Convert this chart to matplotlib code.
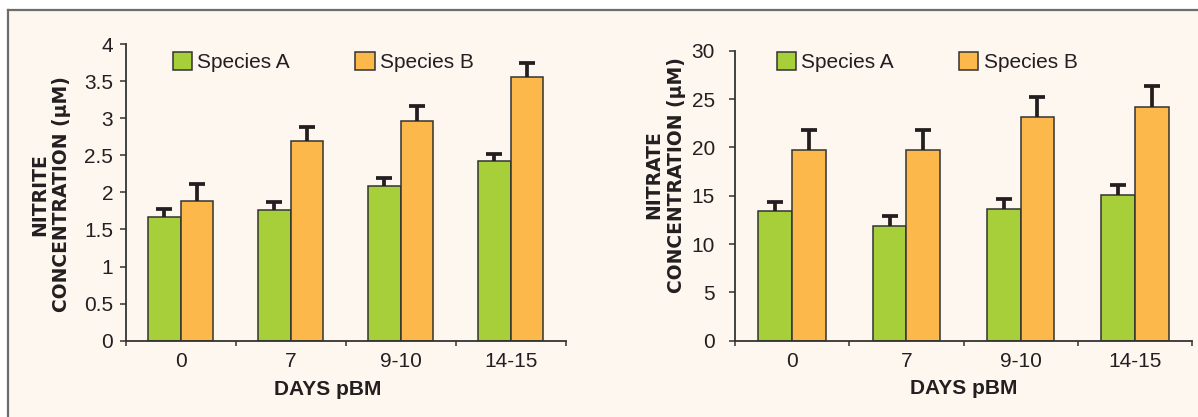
import matplotlib
matplotlib.use("Agg")
import matplotlib.pyplot as plt
from matplotlib.patches import Rectangle, Patch
from matplotlib.lines import Line2D
import numpy as np

plt.rcParams["font.family"] = ["Liberation Sans", "DejaVu Sans"]

# data
days = ["0", "7", "9-10", "14-15"]

nitriteA = [1.67, 1.76, 2.09, 2.42]
nitriteAerr = [0.11, 0.11, 0.11, 0.10]
nitriteB = [1.88, 2.69, 2.96, 3.55]
nitriteBerr = [0.23, 0.19, 0.20, 0.20]

nitrateA = [13.4, 11.9, 13.6, 15.1]
nitrateAerr = [1.0, 1.0, 1.1, 1.0]
nitrateB = [19.7, 19.7, 23.1, 24.2]
nitrateBerr = [2.1, 2.1, 2.1, 2.1]

GREEN = "#a7cf3a"
ORANGE = "#fdb84b"
CREAM = "#fdf7f0"
INK = "#231f20"

W, H = 1198, 417
fig = plt.figure(figsize=(W / 100, H / 100), dpi=100)
fig.patch.set_facecolor("white")

# cream panel with a gray frame line along top and left
fig.patches.append(Rectangle((8 / W, 0), 1 - 8 / W, 407 / H, transform=fig.transFigure,
                             facecolor=CREAM, edgecolor="none", zorder=-10))
fig.lines.append(Line2D([8 / W, 1], [407 / H, 407 / H], transform=fig.transFigure,
                        color="#6d6d6d", lw=1.6, zorder=-5))
fig.lines.append(Line2D([8 / W, 8 / W], [0, 407 / H], transform=fig.transFigure,
                        color="#6d6d6d", lw=1.6, zorder=-5))


def upper_errorbars(ax, xs, vals, errs):
    eb = ax.errorbar(xs, vals, yerr=[np.zeros(len(vals)), errs], fmt="none",
                     ecolor=INK, elinewidth=2.7, capsize=5.6, capthick=2.7, zorder=3)
    # only the top cap is wanted
    eb[1][0].set_visible(False)


def draw_panel(ax, aVals, aErr, bVals, bErr, ymax, ystep, ylabel, ylabelPos, xlabelX,
               legendPos, ytickPad):
    x = np.arange(len(days))
    bw = 0.295
    ax.bar(x - bw / 2, aVals, bw, color=GREEN, edgecolor="#333333", lw=1.1, zorder=2)
    ax.bar(x + bw / 2, bVals, bw, color=ORANGE, edgecolor="#333333", lw=1.1, zorder=2)
    upper_errorbars(ax, x - bw / 2, aVals, aErr)
    upper_errorbars(ax, x + bw / 2, bVals, bErr)

    ax.set_facecolor("none")
    ax.set_xlim(-0.5, len(days) - 0.5)
    ax.set_ylim(0, ymax)
    ax.set_yticks(np.arange(0, ymax + ystep / 2, ystep))
    ax.set_yticklabels(["%g" % v for v in np.arange(0, ymax + ystep / 2, ystep)])
    ax.set_xticks(np.arange(-0.5, len(days)))
    ax.set_xticklabels([])
    ax.set_xticks(x, minor=True)
    ax.set_xticklabels(days, minor=True)
    for s in ["top", "right"]:
        ax.spines[s].set_visible(False)
    for s in ["left", "bottom"]:
        ax.spines[s].set_color("#333333")
        ax.spines[s].set_linewidth(1.3)
    ax.tick_params(axis="y", direction="out", length=4.5, width=1.1, color="#333333",
                   labelsize=15, labelcolor=INK, pad=ytickPad)
    ax.tick_params(axis="x", which="major", direction="out", length=3.5, width=1.1,
                   color="#333333")
    ax.tick_params(axis="x", which="minor", length=0, labelsize=15, labelcolor=INK, pad=8)

    ax.set_xlabel("DAYS pBM", fontsize=15, fontweight="bold", color=INK)
    ax.xaxis.label.set_va("center")
    ax.xaxis.set_label_coords(xlabelX, -0.165)

    ax.set_ylabel(ylabel, fontsize=13.5, fontweight="bold", color=INK,
                  family="DejaVu Sans", linespacing=1.2)
    ax.yaxis.label.set_va("center")
    ax.yaxis.label.set_ha("center")
    ax.yaxis.set_label_coords(*ylabelPos)

    handles = [Patch(facecolor=GREEN, edgecolor="#333333", lw=1.1),
               Patch(facecolor=ORANGE, edgecolor="#333333", lw=1.1)]
    ax.legend(handles, ["Species A", "Species B"], ncol=2, frameon=False, fontsize=15,
              loc="center left", bbox_to_anchor=legendPos, borderpad=0, borderaxespad=0,
              handlelength=0.92, handleheight=0.95, handletextpad=0.25, columnspacing=3.15,
              labelcolor=INK)


axL = fig.add_axes([125.7 / W, (H - 340.7) / H, 440 / W, 296.7 / H])
draw_panel(axL, nitriteA, nitriteAerr, nitriteB, nitriteBerr, 4, 0.5,
           "NITRITE\nCONCENTRATION (\u03bcM)", (-0.170, 0.494), 0.46, (0.107, 0.939), 4.5)

axR = fig.add_axes([735 / W, (H - 340.7) / H, 457 / W, 290 / H])
draw_panel(axR, nitrateA, nitrateAerr, nitrateB, nitrateBerr, 30, 5,
           "NITRATE\nCONCENTRATION (\u03bcM)", (-0.153, 0.571), 0.5, (0.091, 0.960), 10)

fig.savefig("out.png", dpi=100, facecolor=fig.get_facecolor())
